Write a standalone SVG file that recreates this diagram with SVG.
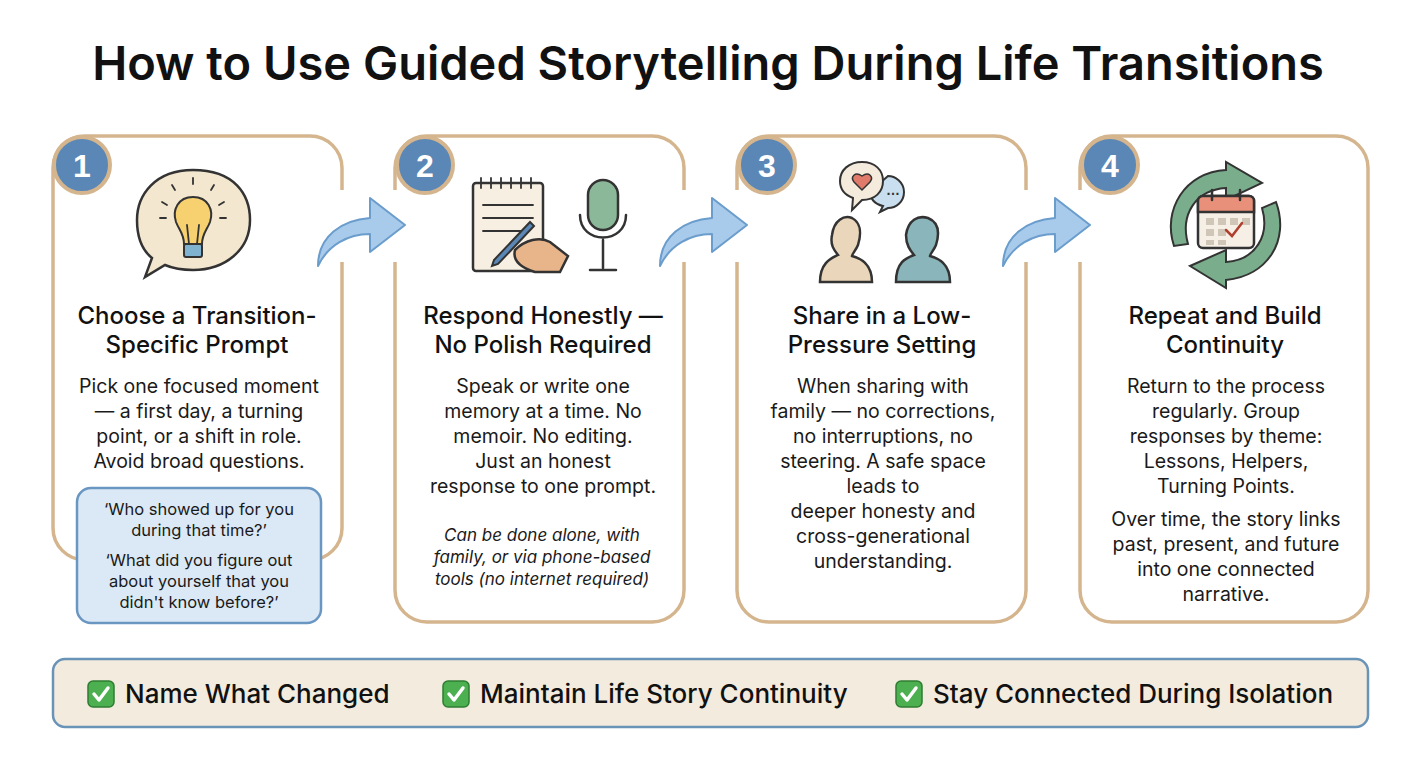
<svg xmlns="http://www.w3.org/2000/svg" width="1408" height="768" viewBox="0 0 1408 768">
<defs>
<style>
.card{fill:#fff;stroke:#d4b58e;stroke-width:3.5}
.gap{stroke:#fff;stroke-width:8}
.badge{fill:#5a87b5;stroke:#d4b58e;stroke-width:4}
.bn{font:bold 32px "Liberation Sans",Arial,sans-serif;fill:#fff;text-anchor:middle}
.h{font:500 24px Inter,"Liberation Sans",sans-serif;fill:#111;text-anchor:middle}
.b{font:19.5px Inter,"Liberation Sans",sans-serif;fill:#1a1a1a;text-anchor:middle}
.i{font:italic 17px Inter,"Liberation Sans",sans-serif;fill:#1a1a1a;text-anchor:middle}
.q{font:16.5px Inter,"Liberation Sans",sans-serif;fill:#1a1a1a;text-anchor:middle}
.arr{fill:#a8cbec;stroke:#6a9ccc;stroke-width:2;stroke-linejoin:round}
.ln{fill:none;stroke:#333;stroke-width:2.5;stroke-linecap:round;stroke-linejoin:round}
.ft{font:500 26px Inter,"Liberation Sans",sans-serif;fill:#111}
</style>
<g id="chk"><rect x="0" y="0" width="26" height="26" rx="5" fill="#4caf50" stroke="#2e7d32" stroke-width="1.5"/><path d="M6 13 L11 19 L20 7" fill="none" stroke="#fff" stroke-width="3.5" stroke-linecap="round" stroke-linejoin="round"/></g>
<path id="ca" d="M-42 36 C-42 6 -18 -10 10 -12 L10 -32 L45 -5 L10 22 L10 4 C-12 4 -32 15 -42 36 Z"/>
</defs>
<rect width="1408" height="768" fill="#fff"/>
<text x="708" y="80" font-family="Inter,'Liberation Sans',sans-serif" font-weight="600" font-size="47" fill="#111" text-anchor="middle">How to Use Guided Storytelling During Life Transitions</text>

<g id="node1">
<rect class="card" x="53" y="136" width="289" height="424" rx="32"/>
<line class="gap" x1="342" y1="190" x2="342" y2="262"/>
<circle class="badge" cx="82" cy="165" r="28"/><text class="bn" x="82" y="177">1</text>
<path d="M193 170 C235 170 250 195 250 220 C250 250 225 270 193 270 C182 270 172 268 165 265 L145 277 L152 258 C142 250 137 236 137 220 C137 195 155 170 193 170 Z" fill="#f3e7cf" stroke="#333" stroke-width="2.5"/>
<path d="M193 197 C178 197 172 210 176 222 C179 230 184 234 184 244 L202 244 C202 234 207 230 210 222 C214 210 208 197 193 197 Z" fill="#f7d070" stroke="#333" stroke-width="2"/>
<rect x="184" y="244" width="18" height="13" rx="2" fill="#7fb3d0" stroke="#333" stroke-width="2"/>
<path class="ln" d="M193 178 v6 M172 185 l3 5 M214 185 l-3 5 M162 202 l5 3 M224 202 l-5 3 M160 218 h6 M226 218 h-6 M189 244 L187 225 M197 244 L199 225" style="stroke-width:1.8"/>
<text class="h" x="197" y="324">Choose a Transition-</text>
<text class="h" x="197" y="353">Specific Prompt</text>
<text class="b" x="199" y="393">Pick one focused moment</text>
<text class="b" x="199" y="418">— a first day, a turning</text>
<text class="b" x="199" y="443">point, or a shift in role.</text>
<text class="b" x="199" y="468">Avoid broad questions.</text>
<rect x="77" y="488" width="244" height="135" rx="14" fill="#dbe9f6" stroke="#6a96c2" stroke-width="2.5"/>
<text class="q" x="199" y="515">‘Who showed up for you</text>
<text class="q" x="199" y="536">during that time?’</text>
<text class="q" x="199" y="566">‘What did you figure out</text>
<text class="q" x="199" y="587">about yourself that you</text>
<text class="q" x="199" y="608">didn't know before?’</text>
</g>

<g id="node2">
<rect class="card" x="395" y="136" width="289" height="486" rx="32"/>
<line class="gap" x1="684" y1="190" x2="684" y2="262"/>
<line class="gap" x1="395" y1="190" x2="395" y2="262"/>
<circle class="badge" cx="425" cy="165" r="28"/><text class="bn" x="425" y="177">2</text>
<rect x="473" y="183" width="70" height="88" rx="3" fill="#f7f0e2" stroke="#333" stroke-width="2.5"/>
<path class="ln" d="M481 178 v10 M491 178 v10 M501 178 v10 M511 178 v10 M521 178 v10 M531 178 v10 M483 205 h50 M483 218 h50 M483 231 h40" style="stroke-width:1.8"/>
<path d="M530 222 L494 260 L492 266 L498 264 L534 226 Z" fill="#5a87b5" stroke="#333" stroke-width="2"/>
<path d="M515 250 C525 240 540 236 550 242 L568 256 L560 272 L535 272 C522 268 512 262 515 250 Z" fill="#e8b48a" stroke="#333" stroke-width="2.5"/>
<rect x="588" y="180" width="30" height="50" rx="15" fill="#8cb89a" stroke="#333" stroke-width="2.5"/>
<path class="ln" d="M580 215 C580 245 626 245 626 215 M603 240 V268 M590 270 H616"/>
<text class="h" x="543" y="324">Respond Honestly —</text>
<text class="h" x="543" y="353">No Polish Required</text>
<text class="b" x="543" y="393">Speak or write one</text>
<text class="b" x="543" y="418">memory at a time. No</text>
<text class="b" x="543" y="443">memoir. No editing.</text>
<text class="b" x="543" y="468">Just an honest</text>
<text class="b" x="543" y="493">response to one prompt.</text>
<text class="i" x="542" y="541">Can be done alone, with</text>
<text class="i" x="542" y="563">family, or via phone-based</text>
<text class="i" x="542" y="585">tools (no internet required)</text>
</g>

<g id="node3">
<rect class="card" x="737" y="136" width="289" height="486" rx="32"/>
<line class="gap" x1="1026" y1="190" x2="1026" y2="262"/>
<line class="gap" x1="737" y1="190" x2="737" y2="262"/>
<circle class="badge" cx="767" cy="165" r="28"/><text class="bn" x="767" y="177">3</text>
<path d="M888 176 C895 176 904 182 904 192 C904 202 896 208 888 208 L880 212 L883 206 C874 204 870 198 870 192 Z" fill="#c9dff0" stroke="#333" stroke-width="2"/>
<text x="893" y="195" font-family="Liberation Sans,sans-serif" font-size="14" font-weight="bold" fill="#333" text-anchor="middle">…</text>
<path d="M862 162 C875 162 883 170 883 181 C883 192 875 200 862 200 L852 210 L853 198 C845 195 840 189 840 181 C840 170 849 162 862 162 Z" fill="#f5ebdd" stroke="#333" stroke-width="2"/>
<path d="M862 190 L854 182 C850 177 855 171 862 176 C869 171 874 177 870 182 Z" fill="#e07a6a" stroke="#333" stroke-width="1.5"/>
<path d="M820 282 C820 262 832 258 838 255 C834 250 830 245 832 235 C834 220 844 215 852 218 C860 222 862 232 858 245 C856 250 852 254 852 256 C860 258 872 264 872 282 Z" fill="#ead6bb" stroke="#333" stroke-width="2.5"/>
<path d="M896 282 C896 262 906 258 914 255 C910 250 906 245 906 235 C908 220 918 215 928 218 C938 222 940 232 936 245 C934 250 930 254 930 256 C938 258 950 264 950 282 Z" fill="#8ab5ba" stroke="#333" stroke-width="2.5"/>
<text class="h" x="882" y="324">Share in a Low-</text>
<text class="h" x="882" y="353">Pressure Setting</text>
<text class="b" x="883" y="393">When sharing with</text>
<text class="b" x="883" y="418">family — no corrections,</text>
<text class="b" x="883" y="443">no interruptions, no</text>
<text class="b" x="883" y="468">steering. A safe space</text>
<text class="b" x="883" y="493">leads to</text>
<text class="b" x="883" y="518">deeper honesty and</text>
<text class="b" x="883" y="543">cross-generational</text>
<text class="b" x="883" y="568">understanding.</text>
</g>

<g id="node4">
<rect class="card" x="1080" y="136" width="288" height="486" rx="32"/>
<line class="gap" x1="1080" y1="190" x2="1080" y2="262"/>
<circle class="badge" cx="1110" cy="165" r="28"/><text class="bn" x="1110" y="177">4</text>
<path d="M1174 246 C1162 210 1185 172 1226 170 L1226 162 L1262 183 L1226 200 L1226 188 C1195 190 1180 215 1188 244 Z" fill="#7aad8c" stroke="#333" stroke-width="2"/>
<path d="M1276 202 C1290 240 1268 276 1226 280 L1226 288 L1190 266 L1226 250 L1226 262 C1256 260 1270 235 1262 208 Z" fill="#7aad8c" stroke="#333" stroke-width="2"/>
<rect x="1198" y="196" width="56" height="52" rx="5" fill="#f5efe6" stroke="#333" stroke-width="2.5"/>
<path d="M1198 212 V201 a5 5 0 0 1 5 -5 H1249 a5 5 0 0 1 5 5 V212 Z" fill="#e8907a" stroke="#333" stroke-width="2.5"/>
<path class="ln" d="M1212 190 v10 M1240 190 v10"/>
<g fill="#cfc6b8"><rect x="1206" y="218" width="8" height="7"/><rect x="1218" y="218" width="8" height="7"/><rect x="1230" y="218" width="8" height="7"/><rect x="1206" y="229" width="8" height="7"/><rect x="1218" y="229" width="8" height="7"/><rect x="1206" y="240" width="8" height="5"/><rect x="1218" y="240" width="8" height="5"/><rect x="1242" y="218" width="8" height="7"/></g>
<path d="M1226 230 L1232 236 L1242 223" fill="none" stroke="#b0402e" stroke-width="2.5" stroke-linecap="round"/>
<text class="h" x="1225" y="324">Repeat and Build</text>
<text class="h" x="1225" y="353">Continuity</text>
<text class="b" x="1226" y="393">Return to the process</text>
<text class="b" x="1226" y="418">regularly. Group</text>
<text class="b" x="1226" y="443">responses by theme:</text>
<text class="b" x="1226" y="468">Lessons, Helpers,</text>
<text class="b" x="1226" y="493">Turning Points.</text>
<text class="b" x="1226" y="526">Over time, the story links</text>
<text class="b" x="1226" y="551">past, present, and future</text>
<text class="b" x="1226" y="576">into one connected</text>
<text class="b" x="1226" y="601">narrative.</text>
</g>

<g id="connectors">
<use href="#ca" class="arr" x="360" y="230"/>
<use href="#ca" class="arr" x="702" y="230"/>
<use href="#ca" class="arr" x="1045" y="230"/>
</g>

<g id="footer">
<rect x="53" y="659" width="1315" height="68" rx="12" fill="#f3ebdd" stroke="#6a93b8" stroke-width="2.5"/>
<use href="#chk" x="88" y="681"/><text class="ft" x="125" y="703">Name What Changed</text>
<use href="#chk" x="443" y="681"/><text class="ft" x="480" y="703">Maintain Life Story Continuity</text>
<use href="#chk" x="896" y="681"/><text class="ft" x="933" y="703">Stay Connected During Isolation</text>
</g>
</svg>
